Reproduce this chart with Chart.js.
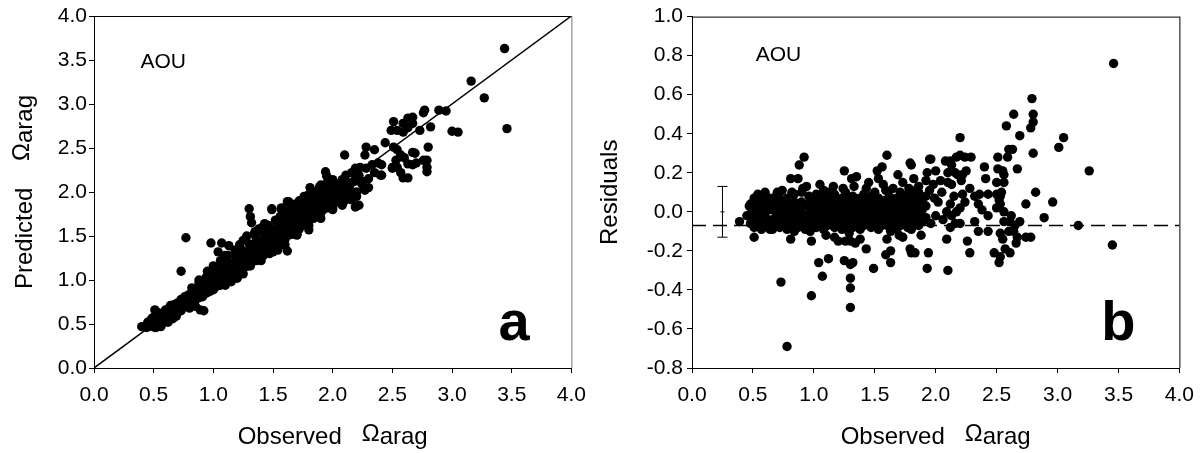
<!doctype html>
<html lang="en">
  <head>
    <meta charset="utf-8">
    <title>AOU predicted vs observed Omega arag</title>
    <style>
      * { margin: 0; padding: 0; }
      body { width: 1204px; height: 453px; background: #fff; overflow: hidden; position: relative; }
      .panel { position: absolute; top: 0; height: 453px; }
      #panelA { left: 0; width: 596px; }
      #panelB { left: 596px; width: 608px; }
    </style>
  </head>
  <body>
    <div class="panel" id="panelA"><canvas id="chartA" width="596" height="453"></canvas></div>
    <div class="panel" id="panelB"><canvas id="chartB" width="608" height="453"></canvas></div>
    <script src="https://cdn.jsdelivr.net/npm/chart.js/dist/chart.umd.min.js"></script>
    <script>
    // axis ranges / ticks  [min, max, step]
    const xTicks = [0, 4, 0.5];
    const aYTicks = [0, 4, 0.5];
    const bYTicks = [-0.8, 1.0, 0.2];

    // panel a, dense band : [observed, [predicted ...]]
    const panelABand = [
      [0.46,[0.47,0.52]],[0.49,[0.48,0.54,0.57]],[0.52,[0.46,0.51,0.56,0.61]],[0.55,[0.50,0.55,0.59]],
      [0.58,[0.52,0.56,0.63]],[0.61,[0.56,0.60,0.66]],[0.64,[0.57,0.63,0.67,0.71]],[0.67,[0.61,0.65,0.72]],
      [0.70,[0.63,0.69,0.74]],[0.73,[0.65,0.71,0.78]],[0.76,[0.70,0.74,0.81]],[0.79,[0.71,0.78,0.83]],
      [0.82,[0.73,0.80,0.86,0.91]],[0.85,[0.77,0.84,0.89]],[0.88,[0.80,0.85,0.92,0.97]],[0.91,[0.81,0.88,0.95]],
      [0.94,[0.85,0.91,0.97,1.03]],[0.97,[0.87,0.95,1.01]],[1.00,[0.89,0.96,1.03,1.09]],[1.03,[0.93,0.99,1.06]],
      [1.06,[0.94,1.02,1.10,1.15]],[1.09,[0.98,1.05,1.12]],[1.12,[1.00,1.08,1.16,1.21]],[1.15,[1.04,1.10,1.18]],
      [1.18,[1.05,1.13,1.20,1.28]],[1.21,[1.09,1.17,1.24]],[1.24,[1.11,1.19,1.27,1.34]],[1.27,[1.15,1.22,1.30]],
      [1.30,[1.16,1.25,1.33,1.41]],[1.33,[1.21,1.28,1.36]],[1.36,[1.22,1.31,1.39,1.47]],[1.39,[1.27,1.34,1.43]],
      [1.42,[1.28,1.37,1.45,1.53]],[1.45,[1.33,1.40,1.48]],[1.48,[1.34,1.43,1.51,1.59]],[1.51,[1.39,1.46,1.55]],
      [1.54,[1.40,1.49,1.57,1.65]],[1.57,[1.45,1.52,1.60]],[1.60,[1.46,1.55,1.63,1.71]],[1.63,[1.51,1.58,1.67]],
      [1.66,[1.52,1.61,1.69,1.77]],[1.69,[1.57,1.64,1.72]],[1.72,[1.58,1.67,1.75,1.83]],[1.75,[1.63,1.70,1.79]],
      [1.78,[1.64,1.73,1.81,1.89]],[1.81,[1.69,1.76,1.84]],[1.84,[1.70,1.79,1.87,1.95]],[1.87,[1.75,1.82,1.91]],
      [1.90,[1.76,1.85,1.93,2.01]],[1.93,[1.81,1.88,1.96]],[1.96,[1.82,1.91,1.99,2.06]],[1.99,[1.87,1.94,2.02]],
      [2.02,[1.88,1.97,2.05]],[2.05,[1.93,2.01,2.08]],[2.08,[1.95,2.04]],[2.11,[1.99,2.07]],[2.14,[2.01,2.10]]
    ];

    // panel a, individual points : [observed, predicted]
    const panelAPoints = [
      [0.40,0.47],[0.44,0.46],[0.45,0.52],[0.47,0.48],[0.48,0.55],[0.50,0.50],[0.51,0.46],[0.52,0.57],[0.53,0.52],[0.54,0.48],
      [0.55,0.62],[0.56,0.55],[0.57,0.50],[0.58,0.60],[0.59,0.54],[0.60,0.66],[0.61,0.58],[0.62,0.52],[0.63,0.63],[0.64,0.68],
      [0.65,0.60],[0.66,0.56],[0.67,0.70],[0.68,0.64],[0.69,0.59],[0.70,0.73],[0.51,0.66],[0.56,0.47],[0.53,0.63],
      [0.80,0.68],[0.89,0.66],[0.92,0.65],[0.77,1.48],[0.73,1.10],[0.88,1.00],[0.95,1.05],[0.85,0.70],
      [0.98,1.42],[1.07,1.42],[1.13,1.39],[1.04,1.32],[1.25,1.07],[1.31,1.16],[1.10,1.28],[1.20,1.05],[1.15,0.98],
      [1.30,1.81],[1.31,1.72],[1.32,1.65],[1.49,1.81],[1.57,1.82],[1.63,1.89],[1.80,1.57],[1.43,1.64],[1.62,1.33],[1.54,1.34],
      [1.70,1.51],[1.35,1.55],[1.47,1.30],[1.58,1.40],
      [1.25,1.45],[1.28,1.50],[1.34,1.52],[1.38,1.58],[1.41,1.60],[1.46,1.62],[1.52,1.68],[1.56,1.72],[1.60,1.78],[1.64,1.80],
      [1.68,1.86],[1.72,1.90],[1.76,1.95],[1.80,1.97],[1.85,2.00],[1.90,2.08],[1.95,2.10],[2.00,2.14],[1.06,1.22],[1.12,1.28],
      [1.18,1.34],[1.22,1.40],[0.95,1.10],[1.00,1.16],
      [1.40,1.22],[1.50,1.32],[1.60,1.40],[1.70,1.52],[1.80,1.62],[1.90,1.70],[2.00,1.80],[1.20,1.02],[1.10,0.94],[2.10,1.90],
      [2.20,1.95],[2.25,2.12],[2.30,2.05],
      [1.81,2.05],[1.89,2.06],[1.98,2.05],[2.06,2.10],[2.14,2.06],[2.20,2.00],[2.27,2.02],[2.08,1.97],[2.16,1.91],[2.22,1.85],
      [2.08,1.85],[2.02,1.94],[1.94,1.94],[1.86,1.94],[1.84,1.88],[1.76,1.85],[1.70,1.80],[1.62,1.89],[1.57,1.80],[1.49,1.80],
      [1.65,1.76],[1.78,1.76],[1.92,1.80],[2.00,1.83],[2.19,1.83],
      [2.19,2.27],[2.23,2.28],[2.28,2.27],[2.33,2.31],[2.38,2.33],[2.41,2.19],[2.22,2.19],[2.16,2.22],[2.11,2.19],[2.08,2.14],
      [2.24,2.10],[1.94,2.23],[1.95,2.18],[2.10,2.42],[2.28,2.51],[2.35,2.48],[2.27,2.42],[2.44,2.56],[2.41,2.31],[2.40,2.19],
      [2.50,2.28],[2.12,2.02],[2.18,2.12],[2.30,2.15],[2.35,2.22],[2.14,1.98],[2.26,2.05],[2.05,2.05],
      [2.51,2.80],[2.59,2.78],[2.63,2.84],[2.67,2.85],[2.67,2.78],[2.54,2.70],[2.59,2.68],[2.63,2.73],[2.49,2.70],[2.73,2.70],
      [2.51,2.51],[2.54,2.48],[2.57,2.42],[2.53,2.36],[2.60,2.39],[2.63,2.32],[2.54,2.28],[2.50,2.27],[2.57,2.22],
      [2.67,2.31],[2.76,2.36],[2.69,2.44],[2.59,2.16],[2.63,2.16],[2.57,2.40],[2.70,2.33],[2.67,2.45],
      [2.79,2.36],[2.79,2.28],[2.79,2.23],[2.80,2.51],[2.82,2.74],[2.77,2.93],[2.76,2.90],[2.89,2.93],[2.95,2.92],
      [3.00,2.69],[3.05,2.68],[3.16,3.26],[3.27,3.07],[3.44,3.63],[3.46,2.72]
    ];

    // panel b, dense band : [observed, [residual ...]]
    const panelBBand = [
      [0.48,[-0.06,-0.01,0.04]],[0.51,[-0.08,-0.03,0.02,0.07]],[0.54,[-0.05,0.00,0.05]],[0.57,[-0.09,-0.04,0.01,0.06]],
      [0.60,[-0.07,-0.02,0.03,0.08]],[0.63,[-0.05,0.01,0.05]],[0.66,[-0.09,-0.04,0.02,0.07]],[0.69,[-0.06,-0.01,0.04]],
      [0.72,[-0.08,-0.03,0.02,0.06]],[0.75,[-0.06,0.00,0.05]],[0.78,[-0.09,-0.04,0.01,0.07]],[0.81,[-0.07,-0.02,0.04]],
      [0.84,[-0.05,0.00,0.05,0.09]],[0.87,[-0.08,-0.03,0.02]],[0.90,[-0.06,-0.01,0.05,0.10]],[0.93,[-0.09,-0.03,0.03]],
      [0.96,[-0.07,-0.01,0.04,0.08]],[0.99,[-0.05,0.01,0.06]],[1.02,[-0.08,-0.02,0.03,0.09]],[1.05,[-0.06,0.00,0.05]],
      [1.08,[-0.09,-0.03,0.02,0.07]],[1.11,[-0.07,-0.01,0.04,0.10]],[1.14,[-0.05,0.01,0.06]],[1.17,[-0.08,-0.02,0.03,0.09]],
      [1.20,[-0.06,0.00,0.05]],[1.23,[-0.09,-0.03,0.02,0.07]],[1.26,[-0.07,-0.01,0.04,0.10]],[1.29,[-0.05,0.01,0.06]],
      [1.32,[-0.08,-0.02,0.03,0.08]],[1.35,[-0.06,0.00,0.05]],[1.38,[-0.09,-0.03,0.02,0.07]],[1.41,[-0.07,-0.01,0.04,0.09]],
      [1.44,[-0.05,0.01,0.06]],[1.47,[-0.08,-0.02,0.03,0.08]],[1.50,[-0.06,0.00,0.05,0.10]],[1.53,[-0.09,-0.03,0.02,0.07]],
      [1.56,[-0.07,-0.01,0.04]],[1.59,[-0.05,0.01,0.06,0.11]],[1.62,[-0.08,-0.02,0.03,0.08]],[1.65,[-0.06,0.00,0.05]],
      [1.68,[-0.09,-0.03,0.02,0.07]],[1.71,[-0.07,-0.01,0.04,0.10]],[1.74,[-0.05,0.01,0.06]],[1.77,[-0.08,-0.02,0.03,0.09]],
      [1.80,[-0.06,0.00,0.05,0.11]],[1.83,[-0.04,0.02,0.07]],[1.86,[-0.07,-0.01,0.04,0.10]],[1.89,[-0.05,0.01,0.06]],
      [1.92,[-0.03,0.03,0.08]]
    ];

    // panel b, individual points : [observed, residual]
    const panelBPoints = [
      [0.45,-0.02],[0.47,0.03],[0.53,-0.04],[0.55,0.02],[0.57,0.08],[0.63,0.07],[0.71,0.09],[0.82,0.10],[0.91,0.12],[0.97,-0.10],
      [0.54,0.09],[0.64,-0.09],[0.74,0.11],[0.84,-0.10],[0.94,0.13],
      [0.39,-0.05],[0.51,-0.13],[0.73,-0.36],[0.81,-0.14],[0.98,-0.15],[0.78,-0.69],[0.98,-0.43],[0.92,0.28],[0.88,0.24],[0.81,0.17],
      [0.87,0.17],[0.70,0.10],[0.60,0.10],
      [1.08,0.11],[1.16,0.13],[1.24,0.12],[1.29,-0.11],[1.33,0.13],[1.43,0.12],
      [1.04,-0.26],[1.12,-0.24],[1.07,-0.33],[1.25,-0.25],[1.30,-0.27],[1.32,-0.26],[1.30,-0.34],[1.30,-0.39],[1.30,-0.49],[1.49,-0.29],
      [1.20,-0.15],[1.26,-0.15],[1.30,-0.15],[1.34,-0.16],[1.38,-0.14],[1.43,-0.19],[1.25,0.21],[1.31,0.17],[1.10,-0.12],[1.17,-0.13],
      [1.45,0.15],[1.05,0.14],[1.35,0.18],
      [1.57,0.14],[1.65,0.12],[1.73,0.15],[1.78,0.12],[1.82,0.17],[1.86,0.13],[1.92,0.16],[1.98,0.14],[1.63,-0.10],[1.80,-0.09],
      [1.60,0.29],[1.56,0.23],[1.52,0.21],[1.79,0.25],[1.69,0.19],[1.95,0.27],[1.59,-0.22],[1.63,-0.20],[1.63,-0.26],[1.80,-0.21],
      [1.83,-0.21],[1.93,-0.29],[1.94,-0.21],[1.73,-0.13],[1.79,-0.19],[1.80,0.24],[1.93,0.20],[1.96,0.27],[1.60,-0.14],[1.70,-0.12],
      [1.88,-0.12],[1.53,0.17],[1.95,0.11],[1.99,0.07],[2.00,-0.02],[1.96,-0.06],
      [2.20,0.38],[2.20,0.29],[2.24,0.28],[2.29,0.28],[2.17,0.28],[2.08,0.26],[2.12,0.26],[2.13,0.24],[2.25,0.21],[2.10,0.20],
      [2.16,0.20],[2.18,0.19],[2.10,0.15],[2.13,0.14],[2.21,0.16],[2.22,0.19],[2.41,0.17],[2.40,0.23],[2.22,0.09],[2.24,0.05],
      [2.20,0.02],[2.17,0.00],[2.13,-0.02],[2.09,0.00],[2.12,0.04],[2.32,0.08],[2.36,0.09],[2.43,0.09],[2.35,0.04],[2.43,-0.02],
      [2.35,-0.10],[2.43,-0.10],[2.48,-0.21],[2.09,-0.14],[2.12,-0.08],[2.26,-0.15],[2.28,-0.21],[2.10,-0.30],[2.20,-0.06],[2.16,-0.06],
      [2.05,0.10],[2.02,0.05],[2.06,-0.04],[2.15,0.08],[2.28,0.12],[2.32,-0.05],[2.38,0.01],[2.04,0.16],[2.00,0.21],
      [2.79,0.58],[2.64,0.50],[2.80,0.50],[2.80,0.46],[2.78,0.43],[2.58,0.44],[2.69,0.39],[3.05,0.38],[3.01,0.33],[2.63,0.32],
      [2.60,0.32],[2.80,0.30],[3.26,0.21],[2.51,0.28],[2.59,0.28],[2.67,0.22],[2.51,0.22],[2.55,0.21],[2.50,0.15],[2.56,0.15],
      [2.56,0.19],[2.54,0.10],[2.53,0.08],[2.52,0.06],[2.82,0.10],[2.74,0.04],[2.96,0.05],[2.89,-0.03],[3.17,-0.07],[3.45,-0.17],
      [3.46,0.76],[2.52,-0.26],[2.53,-0.23],[2.57,-0.19],[2.61,-0.21],[2.53,-0.11],[2.60,-0.10],[2.64,-0.10],[2.67,-0.13],[2.66,-0.16],
      [2.74,-0.13],[2.78,-0.13],[2.56,-0.05],[2.61,-0.05],[2.69,-0.05],[2.50,0.09],[2.53,0.04],[2.50,0.02],[2.56,0.00],[2.62,-0.02],
      [2.55,-0.14],[2.65,-0.07]
    ];

    // 1:1 line in panel a
    const oneToOne = [[0, 0], [4, 4]];
    // mean residual (dashed) and error bar in panel b
    const meanResidual = -0.07;
    const errBar = { x: 0.25, low: -0.13, mid: 0.0, high: 0.13 };

    const font = "'Liberation Sans', Arial, sans-serif";
    const toXY = arr => arr.map(([x, y]) => ({ x, y }));
    const flatBand = band => band.flatMap(([x, ys]) => ys.map(y => ({ x, y })));

    const xTitle = [{ t: 'Observed   ' }, { t: '\u03A9', rise: 3 }, { t: 'arag' }];

    // centred multi-part text, parts may be raised a little (the Omega)
    function drawParts(ctx, parts, x, y, rot) {
      ctx.save();
      ctx.translate(x, y);
      ctx.rotate(rot);
      const w = parts.reduce((s, p) => s + ctx.measureText(p.t).width, 0);
      let cx = -w / 2;
      for (const p of parts) {
        ctx.fillText(p.t, cx, -(p.rise || 0));
        cx += ctx.measureText(p.t).width;
      }
      ctx.restore();
    }

    // box top/right edges, axis titles and the in-plot labels
    const framePlugin = {
      id: 'frame',
      afterDatasetsDraw(chart, args, opts) {
        const { ctx, chartArea: a, scales } = chart;
        ctx.save();
        ctx.lineWidth = 1;
        ctx.strokeStyle = '#000';
        ctx.beginPath();
        ctx.moveTo(a.left, a.top + 0.5);
        ctx.lineTo(a.right + 0.5, a.top + 0.5);
        ctx.stroke();
        ctx.strokeStyle = opts.rightColor;
        ctx.beginPath();
        ctx.moveTo(a.right + 0.5, a.top);
        ctx.lineTo(a.right + 0.5, a.bottom);
        ctx.stroke();

        ctx.fillStyle = '#000';
        ctx.textAlign = 'left';
        ctx.textBaseline = 'alphabetic';
        ctx.font = '24px ' + font;
        drawParts(ctx, xTitle, (a.left + a.right) / 2, a.bottom + 76, 0);
        drawParts(ctx, opts.yTitle, a.left - opts.yTitleGap, (a.top + a.bottom) / 2, -Math.PI / 2);

        ctx.textAlign = 'center';
        ctx.textBaseline = 'middle';
        ctx.font = '21px ' + font;
        ctx.fillText('AOU', scales.x.getPixelForValue(opts.aou[0]), scales.y.getPixelForValue(opts.aou[1]));
        ctx.textBaseline = 'alphabetic';
        ctx.font = 'bold 56px ' + font;
        ctx.fillText(opts.tag, scales.x.getPixelForValue(opts.tagPos[0]), scales.y.getPixelForValue(opts.tagPos[1]));
        ctx.restore();
      }
    };

    function axes(yT, yLabelPad, yWidth) {
      return {
        x: {
          type: 'linear', min: xTicks[0], max: xTicks[1],
          ticks: { stepSize: xTicks[2], color: '#000', padding: 10, font: { family: font, size: 21 },
                   callback: v => v.toFixed(1) },
          grid: { drawOnChartArea: false, drawTicks: true, tickLength: 5, tickColor: '#000' },
          border: { display: true, color: '#000', width: 1 },
          afterFit: s => { s.height = 85; }
        },
        y: {
          type: 'linear', min: yT[0], max: yT[1],
          ticks: { stepSize: yT[2], color: '#000', padding: yLabelPad, font: { family: font, size: 21 },
                   callback: v => v.toFixed(1) },
          grid: { drawOnChartArea: false, drawTicks: true, tickLength: 5, tickColor: '#000' },
          border: { display: true, color: '#000', width: 1 },
          afterFit: s => { s.width = yWidth; }
        }
      };
    }

    const dotStyle = { backgroundColor: '#000', borderWidth: 0, pointRadius: 4.7 };

    const chartA = new Chart(document.getElementById('chartA'), {
      type: 'scatter',
      data: {
        datasets: [
          { type: 'line', data: toXY(oneToOne), borderColor: '#000', borderWidth: 1.5, pointRadius: 0, fill: false },
          { data: flatBand(panelABand), ...dotStyle },
          { data: toXY(panelAPoints), ...dotStyle }
        ]
      },
      options: {
        responsive: false, animation: false, devicePixelRatio: 1,
        layout: { padding: { left: 0, right: 10, top: 16, bottom: 0 } },
        scales: axes(aYTicks, 2, 94),
        plugins: {
          legend: { display: false }, tooltip: { enabled: false },
          frame: { rightColor: '#777', aou: [0.58, 3.47], tag: 'a', tagPos: [3.52, 0.32],
                   yTitle: [{ t: 'Predicted    ' }, { t: '\u03A9', rise: 3 }, { t: 'arag' }], yTitleGap: 62 }
        }
      },
      plugins: [framePlugin]
    });

    const chartB = new Chart(document.getElementById('chartB'), {
      type: 'scatter',
      data: {
        datasets: [
          { type: 'line', data: toXY([[xTicks[0], meanResidual], [xTicks[1], meanResidual]]),
            borderColor: '#000', borderWidth: 1.3, borderDash: [14, 7], pointRadius: 0, fill: false },
          { type: 'line', data: toXY([[errBar.x, errBar.low], [errBar.x, errBar.mid], [errBar.x, errBar.high]]),
            borderColor: '#000', borderWidth: 1, pointStyle: 'line', pointRadius: [5, 2, 5],
            pointBorderColor: '#000', pointBorderWidth: 1, fill: false },
          { data: flatBand(panelBBand), ...dotStyle },
          { data: toXY(panelBPoints), ...dotStyle }
        ]
      },
      options: {
        responsive: false, animation: false, devicePixelRatio: 1,
        layout: { padding: { left: 0, right: 21, top: 16, bottom: 0 } },
        scales: axes(bYTicks, 4, 96),
        plugins: {
          legend: { display: false }, tooltip: { enabled: false },
          frame: { rightColor: '#000', aou: [0.71, 0.80], tag: 'b', tagPos: [3.50, -0.656],
                   yTitle: [{ t: 'Residuals' }], yTitleGap: 75 }
        }
      },
      plugins: [framePlugin]
    });
    </script>
  </body>
</html>
